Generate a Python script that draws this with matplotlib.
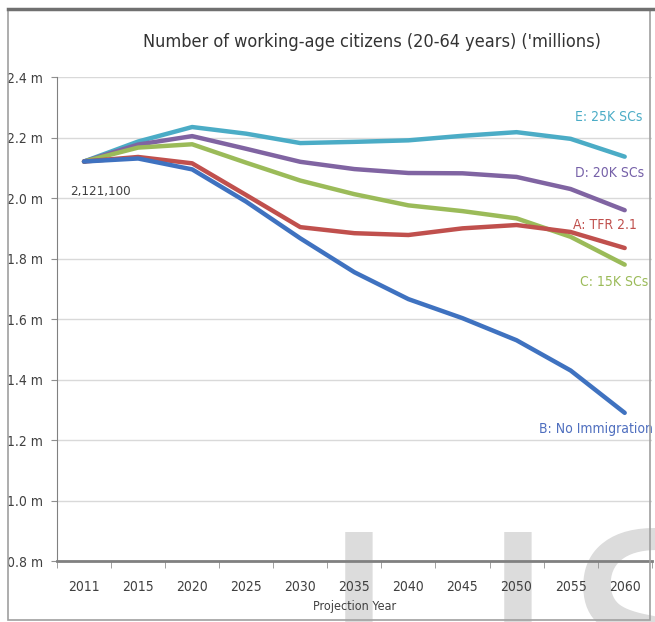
#importing library
import matplotlib.pyplot as plt
from matplotlib.patches import Rectangle
from matplotlib import font_manager

#narrow sans font if one is installed
narrow = None
for f in font_manager.fontManager.ttflist:
    if 'Narrow' in f.name or f.stretch in ('condensed', 'semi-condensed'):
        narrow = f.name
        break
plt.rcParams['font.family'] = [narrow or 'DejaVu Sans', 'DejaVu Sans']
plt.rcParams['font.stretch'] = 'condensed'

#projection years and working-age population (millions) per scenario
years = ["2011", "2015", "2020", "2025", "2030", "2035", "2040", "2045", "2050", "2055", "2060"]
e_25k = [2.121, 2.187, 2.235, 2.213, 2.182, 2.186, 2.191, 2.206, 2.218, 2.196, 2.137]
d_20k = [2.121, 2.177, 2.205, 2.163, 2.120, 2.096, 2.083, 2.082, 2.070, 2.030, 1.960]
c_15k = [2.121, 2.167, 2.178, 2.117, 2.058, 2.013, 1.976, 1.957, 1.933, 1.872, 1.780]
a_tfr = [2.121, 2.136, 2.115, 2.010, 1.904, 1.884, 1.878, 1.900, 1.911, 1.888, 1.835]
b_none = [2.121, 2.131, 2.095, 1.988, 1.867, 1.755, 1.666, 1.603, 1.530, 1.430, 1.290]

series_names = ["E: 25K SCs", "D: 20K SCs", "C: 15K SCs", "A: TFR 2.1", "B: No Immigration"]
series_values = [e_25k, d_20k, c_15k, a_tfr, b_none]
line_colors = ["#4BACC6", "#8064A2", "#9BBB59", "#C0504D", "#3F72C0"]
label_colors = ["#4BACC6", "#7560A8", "#9BBB59", "#C0504D", "#4F6FBF"]
#where each series name sits (category index, value)
label_pos = [(9.7, 2.268), (9.72, 2.083), (9.8, 1.722), (9.64, 1.911), (9.47, 1.236)]

y_ticks = [0.8, 1.0, 1.2, 1.4, 1.6, 1.8, 2.0, 2.2, 2.4]
y_labels = ["0.8 m", "1.0 m", "1.2 m", "1.4 m", "1.6 m", "1.8 m", "2.0 m", "2.2 m", "2.4 m"]

fig = plt.figure(figsize=(6.55, 6.22), dpi=100)
ax = fig.add_axes([0.087, 0.098, 0.908, 0.778])
ax.patch.set_facecolor('none')

x = list(range(len(years)))
#scenario lines
for vals, col in zip(series_values, line_colors):
    ax.plot(x, vals, color=col, linewidth=3.2, solid_capstyle='round', zorder=3)

for name, (px, py), col in zip(series_names, label_pos, label_colors):
    ax.text(px, py, name, color=col, fontsize=10, ha='center', va='center')

ax.text(0.3, 2.023, "2,121,100", color="#404040", fontsize=9.5, ha='center', va='center')

ax.set_xlim(-0.5, len(years) - 0.5)
ax.set_ylim(0.8, 2.4)
ax.set_xticks(x)
ax.set_xticklabels(years)
ax.set_xticks([i - 0.5 for i in range(len(years) + 1)], minor=True)
ax.tick_params(axis='x', which='major', length=0, pad=14, labelsize=10, labelcolor="#404040")
ax.tick_params(axis='x', which='minor', length=5, color="#909090", direction='out')
ax.set_yticks(y_ticks)
ax.set_yticklabels(y_labels)
ax.tick_params(axis='y', length=4, color="#909090", labelsize=10, labelcolor="#404040", pad=6)

ax.grid(axis='y', color="#D9D9D9", linewidth=1)
ax.set_axisbelow(True)
for s in ['top', 'right']:
    ax.spines[s].set_visible(False)
ax.spines['left'].set_color("#808080")
ax.spines['bottom'].set_color("#808080")
ax.spines['bottom'].set_linewidth(2)

ax.set_xlabel("Projection Year", fontsize=9, color="#404040", labelpad=4)
fig.text(0.568, 0.9325, "Number of working-age citizens (20-64 years) ('millions)",
         fontsize=13, color="#333333", ha='center', va='center')

#watermark letters behind the plot
for letter, lx in [("I", 0.485), ("J", 0.727), ("S", 0.862)]:
    fig.text(lx, -0.182, letter, fontsize=200, color="#DCDCDC", ha='left', va='baseline',
             family='DejaVu Sans', stretch='normal', zorder=-1)

#outer frame
fig.patches.append(Rectangle((0.012, 0.003), 0.98, 0.982, transform=fig.transFigure,
                             fill=False, edgecolor="#A0A0A0", linewidth=1.2))
fig.add_artist(plt.Line2D([0.012, 1.0], [0.985, 0.985], transform=fig.transFigure,
                          color="#707070", linewidth=2.5))

fig.savefig("out.png", dpi=100)
